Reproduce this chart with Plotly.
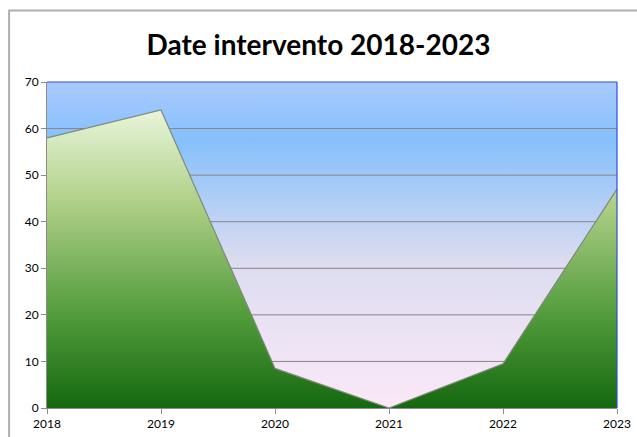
"""Grafico ad area: date intervento 2018-2023."""

import plotly.graph_objects as go

# Dati
ANNI = ["2018", "2019", "2020", "2021", "2022", "2023"]
INTERVENTI = [58, 64, 8.5, 0, 9.5, 47]
Y_TICKS = [0, 10, 20, 30, 40, 50, 60, 70]
Y_MAX = 70

FONT = "Lato"
COLOR_GRID = "#858585"
COLOR_AXIS = "#8c8c8c"
COLOR_BORDER = "#2a4fd6"

fig = go.Figure()

# Sfondo sfumato dell'area del grafico (azzurro in alto, rosa in basso)
fig.add_trace(
    go.Scatter(
        x=ANNI,
        y=[Y_MAX] * len(ANNI),
        mode="lines",
        line=dict(width=0),
        fill="tozeroy",
        fillgradient=dict(
            type="vertical",
            start=0,
            stop=Y_MAX,
            colorscale=[
                [0.0, "#fbe9f7"],
                [0.45, "#dcdcf0"],
                [0.82, "#86c0fb"],
                [1.0, "#a9c9fe"],
            ],
        ),
        hoverinfo="skip",
        showlegend=False,
    )
)

# Griglia orizzontale sopra lo sfondo ma sotto l'area verde
grid_x, grid_y = [], []
for t in Y_TICKS[1:-1]:
    grid_x += [ANNI[0], ANNI[-1], None]
    grid_y += [t, t, None]
fig.add_trace(
    go.Scatter(
        x=grid_x,
        y=grid_y,
        mode="lines",
        line=dict(color=COLOR_GRID, width=1),
        hoverinfo="skip",
        showlegend=False,
    )
)

# Area verde
fig.add_trace(
    go.Scatter(
        x=ANNI,
        y=INTERVENTI,
        mode="lines",
        line=dict(color="#7f8a7a", width=1.2),
        fill="tozeroy",
        fillgradient=dict(
            type="vertical",
            colorscale=[
                [0.0, "#15680f"],
                [0.3, "#4f9a3a"],
                [0.7, "#b2d18a"],
                [1.0, "#e9f5da"],
            ],
        ),
        name="Interventi",
        showlegend=False,
    )
)

fig.update_layout(
    width=637,
    height=437,
    paper_bgcolor="white",
    plot_bgcolor="white",
    margin=dict(l=47, r=20, t=82, b=29),
    title=dict(
        text="<b>Date intervento 2018-2023</b>",
        x=0.5,
        xanchor="center",
        y=0.897,
        yanchor="middle",
        font=dict(family=FONT, size=28, color="black"),
    ),
    font=dict(family=FONT, size=12, color="black"),
    showlegend=False,
    shapes=[
        # bordo esterno del grafico (visibile solo a sinistra e in alto)
        dict(
            type="rect", xref="paper", yref="paper",
            x0=-0.0665, x1=1.2, y0=-0.3, y1=1.219,
            line=dict(color="#b0b0b0", width=2),
            layer="below",
        ),
        # bordo blu superiore e destro dell'area del grafico
        dict(
            type="line", xref="x domain", yref="y domain",
            x0=0, x1=1, y0=1, y1=1,
            line=dict(color=COLOR_BORDER, width=1.2),
        ),
        dict(
            type="line", xref="x domain", yref="y domain",
            x0=1, x1=1, y0=0, y1=1,
            line=dict(color=COLOR_BORDER, width=1.2),
        ),
    ],
)

fig.update_xaxes(
    type="category",
    range=[0, len(ANNI) - 1],
    showgrid=False,
    showline=True,
    linecolor=COLOR_AXIS,
    linewidth=1,
    ticks="outside",
    ticklen=5,
    tickcolor=COLOR_AXIS,
    tickfont=dict(size=12),
    zeroline=False,
    automargin=False,
)

fig.update_yaxes(
    range=[0, Y_MAX],
    tickvals=Y_TICKS,
    showgrid=False,
    showline=True,
    linecolor=COLOR_AXIS,
    linewidth=1,
    ticks="outside",
    ticklen=5,
    tickcolor=COLOR_AXIS,
    tickfont=dict(size=12),
    zeroline=False,
    automargin=False,
)

fig.write_html(
    "out.html",
    config={"displayModeBar": False},
    post_script="document.body.style.margin='0';",
)
